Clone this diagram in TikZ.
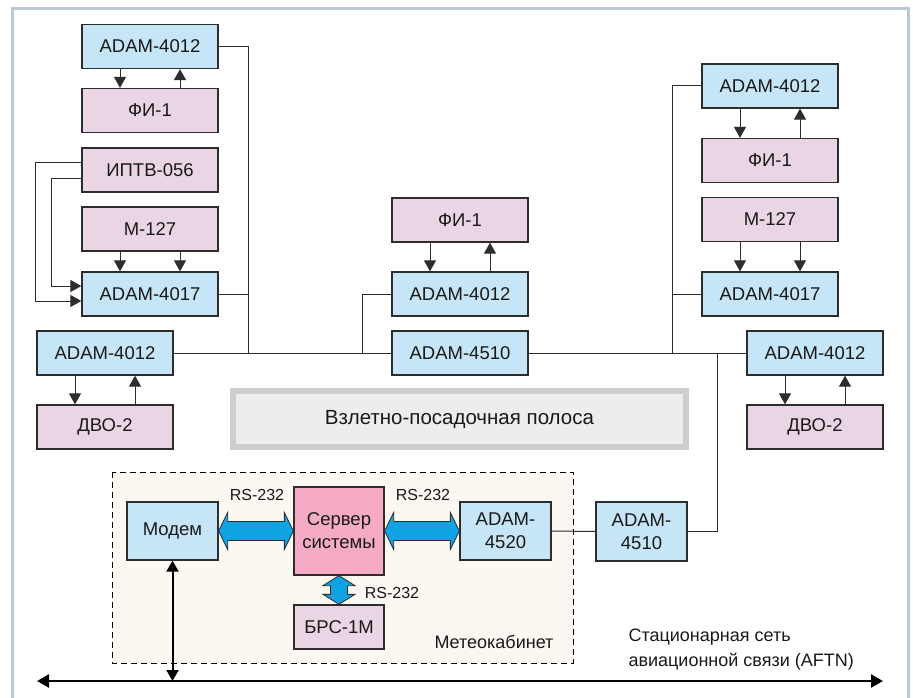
\documentclass[tikz,border=0pt]{standalone}
\usepackage{fontspec}
\setmainfont{Liberation Sans}
\usepackage{tikz}
\usetikzlibrary{arrows.meta,positioning,calc}
\definecolor{adamblue}{RGB}{198, 230, 247}
\definecolor{sensorpink}{RGB}{234, 213, 229}
\definecolor{serverpink}{RGB}{245, 170, 198}
\definecolor{rsblue}{RGB}{15, 163, 227}
\definecolor{boxline}{RGB}{45, 45, 45}
\definecolor{framegray}{RGB}{190, 200, 212}
\definecolor{runwayfill}{RGB}{237, 237, 237}
\definecolor{runwayline}{RGB}{206, 206, 206}
\definecolor{cabinetfill}{RGB}{251, 247, 241}

\tikzset{
  blk/.style={draw=boxline, line width=1.3pt, minimum width=136pt, minimum height=44pt, inner sep=0pt, align=center, text=black!90, font=\fontsize{18.5}{23}\selectfont},
  adam/.style={blk, fill=adamblue},
  sensor/.style={blk, fill=sensorpink},
  link/.style={draw=boxline, line width=1pt},
  sig/.style={link, -{Triangle[width=12pt,length=11pt]}},
  rsarrow/.style={fill=rsblue, draw=boxline, line width=0.8pt},
  small/.style={font=\fontsize{16}{20}\selectfont, text=black!90}
}
% thick RS-232 double arrows (horizontal, vertical)
\newcommand{\rslinkH}[2]{\filldraw[rsarrow] (#1) -- ($(#1)+(9,-18.5)$) -- ($(#1)+(9,-9.5)$) -- ($(#2)+(-9,-9.5)$) -- ($(#2)+(-9,-18.5)$) -- (#2) -- ($(#2)+(-9,18.5)$) -- ($(#2)+(-9,9.5)$) -- ($(#1)+(9,9.5)$) -- ($(#1)+(9,18.5)$) -- cycle;}
\newcommand{\rslinkV}[2]{\filldraw[rsarrow] (#1) -- ($(#1)+(-16,10)$) -- ($(#1)+(-8.5,10)$) -- ($(#2)+(-8.5,-10)$) -- ($(#2)+(-16,-10)$) -- (#2) -- ($(#2)+(16,-10)$) -- ($(#2)+(8.5,-10)$) -- ($(#1)+(8.5,10)$) -- ($(#1)+(16,10)$) -- cycle;}

\begin{document}
\begin{tikzpicture}[x=1pt, y=-1pt]
    \useasboundingbox (0,0) rectangle (913,698);
    % Frame
    \draw[framegray, line width=3pt] (12,698) -- (12,9) -- (908,9) -- (908,698);

    % Left group
    \node[adam] (adamA) at (150,46.5) {ADAM-4012};
    \node[sensor] (fiA) at (150,110.5) {ФИ-1};
    \node[sensor] (iptv) at (150,170) {ИПТВ-056};
    \node[sensor] (mA) at (150,229) {М-127};
    \node[adam] (adamB) at (150,294) {ADAM-4017};
    \node[adam] (adamC) at (105,353) {ADAM-4012};
    \node[sensor] (dvoA) at (105,427) {ДВО-2};

    % Middle group
    \node[sensor] (fiB) at (460,220) {ФИ-1};
    \node[adam] (adamD) at (460,294) {ADAM-4012};
    \node[adam] (busA) at (460,353) {ADAM-4510};

    % Right group
    \node[adam] (adamE) at (770,86) {ADAM-4012};
    \node[sensor] (fiC) at (770,160.5) {ФИ-1};
    \node[sensor] (mB) at (770,219.5) {М-127};
    \node[adam] (adamF) at (770,294) {ADAM-4017};
    \node[adam] (adamG) at (815,353) {ADAM-4012};
    \node[sensor] (dvoB) at (815,427) {ДВО-2};

    % Runway
    \node[draw=runwayline, fill=runwayfill, line width=5.5pt, minimum width=453pt, minimum height=56pt, font=\fontsize{20.5}{24}\selectfont, text=black!90] (runway) at (459.5,419) {Взлетно-посадочная полоса};

    % Meteo cabinet
    \draw[line width=1pt, fill=cabinetfill, dash pattern=on 6pt off 4pt] (112,472) rectangle (573,663);
    \node[adam, minimum width=91pt, minimum height=58pt] (modem) at (172.5,531) {Модем};
    \node[blk, fill=serverpink, minimum width=90pt, minimum height=88pt] (server) at (339,531) {Сервер\\системы};
    \node[adam, minimum width=91pt, minimum height=58pt] (adamH) at (505.5,531) {ADAM-\\4520};
    \node[sensor, minimum width=90pt] (brs) at (339,627) {БРС-1М};
    \node[adam, minimum width=91pt, minimum height=59pt] (busB) at (641.5,531.5) {ADAM-\\4510};
    \node[small, anchor=east, font=\fontsize{18}{22}\selectfont] (cablbl) at (557,642) {Метеокабинет};

    % RS-232 links
    \rslinkH{modem.east}{server.west}
    \rslinkH{server.east}{adamH.west}
    \rslinkV{server.south}{brs.north}
    \node[small] (rs1) at (257,495) {RS-232};
    \node[small] (rs2) at (423,495) {RS-232};
    \node[small] (rs3) at (392,593) {RS-232};

    % Sensor arrows
    \foreach \dev/\sen in {adamA/fiA, adamE/fiC, adamC/dvoA, adamG/dvoB}{
      \draw[sig] ([xshift=-30pt]\dev.south) -- ([xshift=-30pt]\sen.north);
      \draw[sig] ([xshift=30pt]\sen.north) -- ([xshift=30pt]\dev.south);
    }
    \draw[sig] ([xshift=-30pt]fiB.south) -- ([xshift=-30pt]adamD.north);
    \draw[sig] ([xshift=30pt]adamD.north) -- ([xshift=30pt]fiB.south);
    \draw[sig] ([xshift=-30pt]mA.south) -- ([xshift=-30pt]adamB.north);
    \draw[sig] ([xshift=30pt]mA.south) -- ([xshift=30pt]adamB.north);
    \draw[sig] ([xshift=-30pt]mB.south) -- ([xshift=-30pt]adamF.north);
    \draw[sig] ([xshift=30pt]mB.south) -- ([xshift=30pt]adamF.north);
    \draw[sig] ([yshift=7pt]iptv.west) -- ++(-46,0) |- ([yshift=-7pt]adamB.west);
    \draw[sig] ([yshift=-8pt]iptv.west) -- ++(-30,0) |- ([yshift=8pt]adamB.west);

    % Bus
    \coordinate (jL) at (248,353);
    \coordinate (jM) at (362,353);
    \coordinate (jR) at (672,353);
    \coordinate (jS) at (717,353);
    \draw[link] (adamC.east) -- (busA.west);
    \draw[link] (busA.east) -- (adamG.west);
    \draw[link] (adamA.east) -| (jL);
    \draw[link] (adamB.east) -- (adamB.east -| jL);
    \draw[link] (adamD.west) -| (jM);
    \draw[link] (adamE.west) -| (jR);
    \draw[link] (adamF.west) -- (adamF.west -| jR);
    \draw[link] (busB.east) -| (jS);
    \draw[link] (adamH.east) -- (busB.west);

    % AFTN
    \coordinate (aftnL) at (37,681);
    \coordinate (aftnR) at (883,681);
    \draw[line width=2.5pt, {Triangle[width=13pt,length=12pt]}-{Triangle[width=13pt,length=12pt]}] (aftnL) -- (aftnR);
    \draw[line width=2pt, {Triangle[width=12pt,length=11pt]}-{Triangle[width=12pt,length=11pt]}] (modem.south) -- (modem.south |- aftnL);
    \node[small, anchor=west, align=left, font=\fontsize{18}{25}\selectfont] (aftn) at (625,650) {Стационарная сеть\\авиационной связи (AFTN)};
\end{tikzpicture}
\end{document}
